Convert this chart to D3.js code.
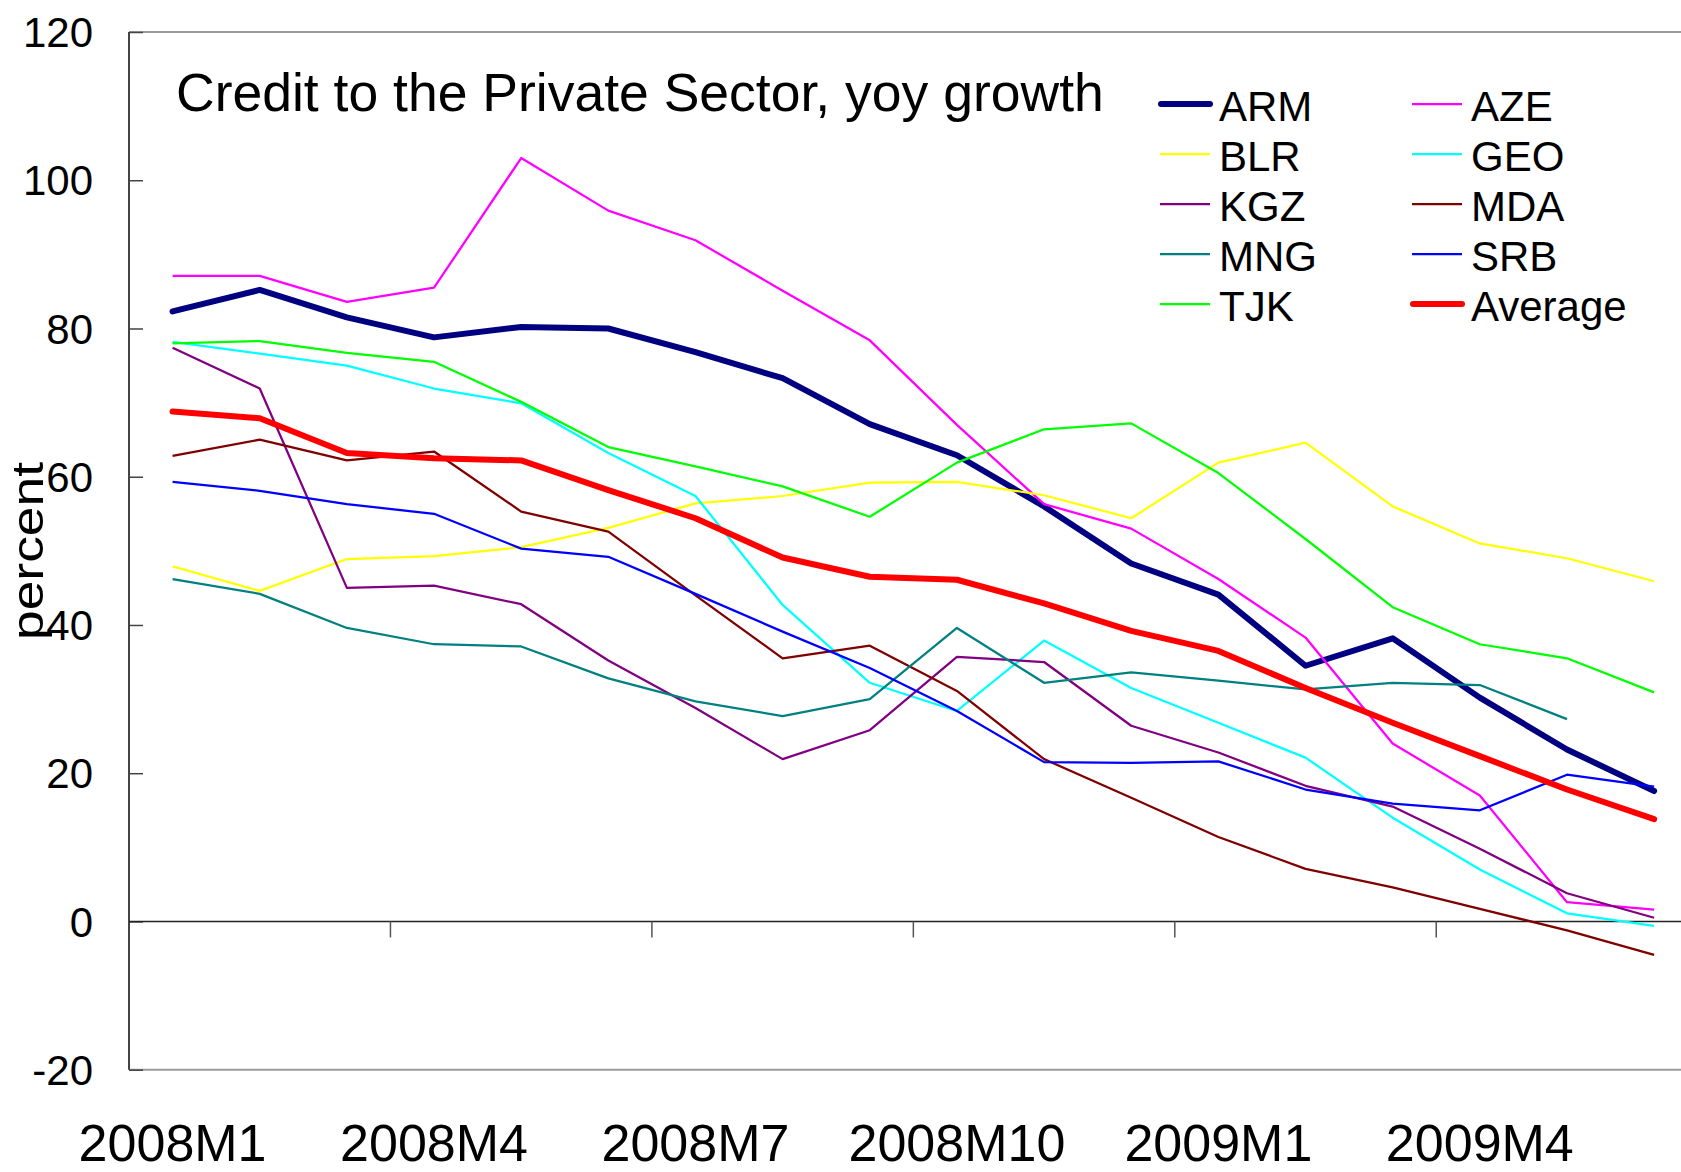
<!DOCTYPE html>
<html>
<head>
<meta charset="utf-8">
<script src="https://cdn.jsdelivr.net/npm/d3@7"></script>
<style>
  html, body { margin: 0; padding: 0; background: #fff; }
  svg { display: block; font-family: "Liberation Sans", Arial, sans-serif; }
</style>
</head>
<body>
<svg id="chart" width="1681" height="1172"></svg>
<script>
// Months on the category axis
const months = ["2008M1","2008M2","2008M3","2008M4","2008M5","2008M6","2008M7","2008M8","2008M9",
                "2008M10","2008M11","2008M12","2009M1","2009M2","2009M3","2009M4","2009M5","2009M6"];

// Credit to the private sector, year-on-year growth (percent)
const ARM = [82.3, 85.2, 81.5, 78.8, 80.2, 80.0, 76.8, 73.3, 67.1, 62.9, 56.0, 48.3, 44.1, 34.5, 38.2, 30.2, 23.2, 17.6];
const AZE = [87.1, 87.1, 83.6, 85.5, 103.0, 95.9, 91.9, 85.1, 78.4, 67.0, 56.3, 53.0, 46.2, 38.3, 24.0, 17.0, 2.6, 1.6];
const BLR = [47.9, 44.6, 48.9, 49.3, 50.5, 53.1, 56.4, 57.4, 59.2, 59.3, 57.5, 54.4, 61.9, 64.6, 56.0, 51.0, 49.0, 45.9];
const GEO = [78.2, 76.6, 75.0, 71.9, 69.9, 63.2, 57.4, 42.7, 32.2, 28.4, 37.9, 31.5, 26.8, 22.1, 14.0, 7.0, 1.1, -0.6];
const KGZ = [77.4, 71.9, 45.0, 45.3, 42.8, 35.2, 28.8, 21.9, 25.8, 35.7, 35.0, 26.4, 22.8, 18.3, 15.5, 9.8, 3.8, 0.5];
const MDA = [62.8, 65.0, 62.2, 63.4, 55.3, 52.6, 44.0, 35.5, 37.2, 31.1, 21.9, 16.7, 11.4, 7.1, 4.6, 1.7, -1.2, -4.5];
const MNG = [46.2, 44.2, 39.6, 37.4, 37.1, 32.8, 29.7, 27.7, 30.0, 39.6, 32.2, 33.6, 32.5, 31.3, 32.2, 31.9, 27.3, null];
const SRB = [59.3, 58.1, 56.3, 55.0, 50.3, 49.2, 44.2, 39.1, 34.2, 28.4, 21.5, 21.4, 21.6, 17.8, 15.9, 15.0, 19.8, 18.2];
const TJK = [78.0, 78.3, 76.7, 75.5, 70.1, 64.0, 61.4, 58.7, 54.6, 61.9, 66.4, 67.2, 60.5, 51.6, 42.4, 37.4, 35.5, 30.9];
const Average = [68.8, 67.9, 63.2, 62.5, 62.2, 58.2, 54.4, 49.1, 46.5, 46.1, 42.9, 39.2, 36.5, 31.5, 26.8, 22.3, 17.8, 13.8];

// Series names, drawing order and legend order
const seriesNames = ["ARM", "AZE", "BLR", "GEO", "KGZ", "MDA", "MNG", "SRB", "TJK", "Average"];
const seriesValues = [ARM, AZE, BLR, GEO, KGZ, MDA, MNG, SRB, TJK, Average];

// Axis labels
const yTicks = [-20, 0, 20, 40, 60, 80, 100, 120];
const xLabelMonths = ["2008M1", "2008M4", "2008M7", "2008M10", "2009M1", "2009M4"];
const xTickMonths = ["2008M4", "2008M7", "2008M10", "2009M1", "2009M4"];
const titleText = "Credit to the Private Sector, yoy growth";
const yTitle = "percent";

// Styling
const colors = {
  ARM: "#000080", AZE: "#FF00FF", BLR: "#FFFF00", GEO: "#00FFFF", KGZ: "#800080",
  MDA: "#800000", MNG: "#008080", SRB: "#0000FF", TJK: "#00FF00", Average: "#FF0000"
};
const thick = new Set(["ARM", "Average"]);

const svg = d3.select("#chart");

const plotLeft = 129, plotTop = 32, plotBottom = 1069.7;
const band = 87.15;

const x = d3.scaleBand().domain(months).range([plotLeft, plotLeft + band * months.length]).padding(0);
const y = d3.scaleLinear().domain([-20, 120]).range([plotBottom, plotTop]);
const cx = m => x(m) + x.bandwidth() / 2;

// Frame: top and bottom borders
svg.append("line")
  .attr("x1", plotLeft).attr("x2", x.range()[1])
  .attr("y1", y(120)).attr("y2", y(120))
  .attr("stroke", "#9a9a9a").attr("stroke-width", 2);
svg.append("line")
  .attr("x1", plotLeft).attr("x2", x.range()[1])
  .attr("y1", y(-20)).attr("y2", y(-20))
  .attr("stroke", "#9a9a9a").attr("stroke-width", 2);

// Value axis with inward ticks
const yAxis = d3.axisRight(y).tickValues(yTicks).tickSize(14).tickFormat("");
const yg = svg.append("g").attr("transform", `translate(${plotLeft},0)`).call(yAxis);
yg.select(".domain").remove();
yg.selectAll(".tick line").attr("stroke", "#444").attr("stroke-width", 1.5);
svg.append("line")
  .attr("x1", plotLeft).attr("x2", plotLeft)
  .attr("y1", y(120)).attr("y2", y(-20))
  .attr("stroke", "#444").attr("stroke-width", 2);

// Value labels
svg.append("g").selectAll("text").data(yTicks).join("text")
  .attr("x", 93).attr("y", d => y(d))
  .attr("dy", "0.36em")
  .attr("text-anchor", "end")
  .attr("font-size", 42)
  .attr("fill", "#000")
  .text(d => d);

// Category axis along zero, ticks between categories
svg.append("line")
  .attr("x1", plotLeft).attr("x2", x.range()[1])
  .attr("y1", y(0)).attr("y2", y(0))
  .attr("stroke", "#222").attr("stroke-width", 1.5);
svg.append("g").selectAll("line").data(xTickMonths).join("line")
  .attr("x1", d => x(d)).attr("x2", d => x(d))
  .attr("y1", y(0)).attr("y2", y(0) + 16)
  .attr("stroke", "#555").attr("stroke-width", 1.5);

// Category labels below the plot
const xAxis = d3.axisBottom(x).tickValues(xLabelMonths).tickSize(0).tickPadding(0);
const xg = svg.append("g").attr("transform", `translate(0,${plotBottom})`).call(xAxis);
xg.select(".domain").remove();
xg.selectAll("text")
  .attr("font-size", 52)
  .attr("font-family", "Liberation Sans, Arial, sans-serif")
  .attr("fill", "#000")
  .attr("y", 91)
  .attr("dy", 0);

// Series lines
const line = d3.line()
  .defined(d => d.v !== null)
  .x(d => cx(d.m))
  .y(d => y(d.v));

svg.append("g").selectAll("path")
  .data(seriesNames.map((n, i) => ({ name: n, pts: months.map((m, j) => ({ m, v: seriesValues[i][j] })) })))
  .join("path")
  .attr("d", d => line(d.pts))
  .attr("fill", "none")
  .attr("stroke", d => colors[d.name])
  .attr("stroke-width", d => thick.has(d.name) ? 6 : 2.25)
  .attr("stroke-linejoin", "round")
  .attr("stroke-linecap", d => thick.has(d.name) ? "round" : "butt");

// Title inside the plot
svg.append("text")
  .attr("x", 176).attr("y", 111)
  .attr("font-size", 53.5)
  .attr("fill", "#000")
  .text(titleText);

// Axis title, rotated
svg.append("text")
  .attr("transform", "translate(42.5,551) rotate(-90)")
  .attr("text-anchor", "middle")
  .attr("font-size", 44)
  .attr("textLength", 178)
  .attr("lengthAdjust", "spacingAndGlyphs")
  .attr("fill", "#000")
  .text(yTitle);

// Legend: two columns, row-major
const legend = svg.append("g");
const legItems = legend.selectAll("g").data(seriesNames).join("g")
  .attr("transform", (d, i) => `translate(${i % 2 === 0 ? 1160 : 1412},${104 + Math.floor(i / 2) * 50})`);
legItems.append("line")
  .attr("x1", d => thick.has(d) ? 1 : 0)
  .attr("x2", 50)
  .attr("y1", 0).attr("y2", 0)
  .attr("stroke", d => colors[d])
  .attr("stroke-width", d => thick.has(d) ? 6 : 2.25)
  .attr("stroke-linecap", d => thick.has(d) ? "round" : "butt");
legItems.append("text")
  .attr("x", 59).attr("y", 16.5)
  .attr("font-size", 42)
  .attr("fill", "#000")
  .text(d => d);
</script>
</body>
</html>
